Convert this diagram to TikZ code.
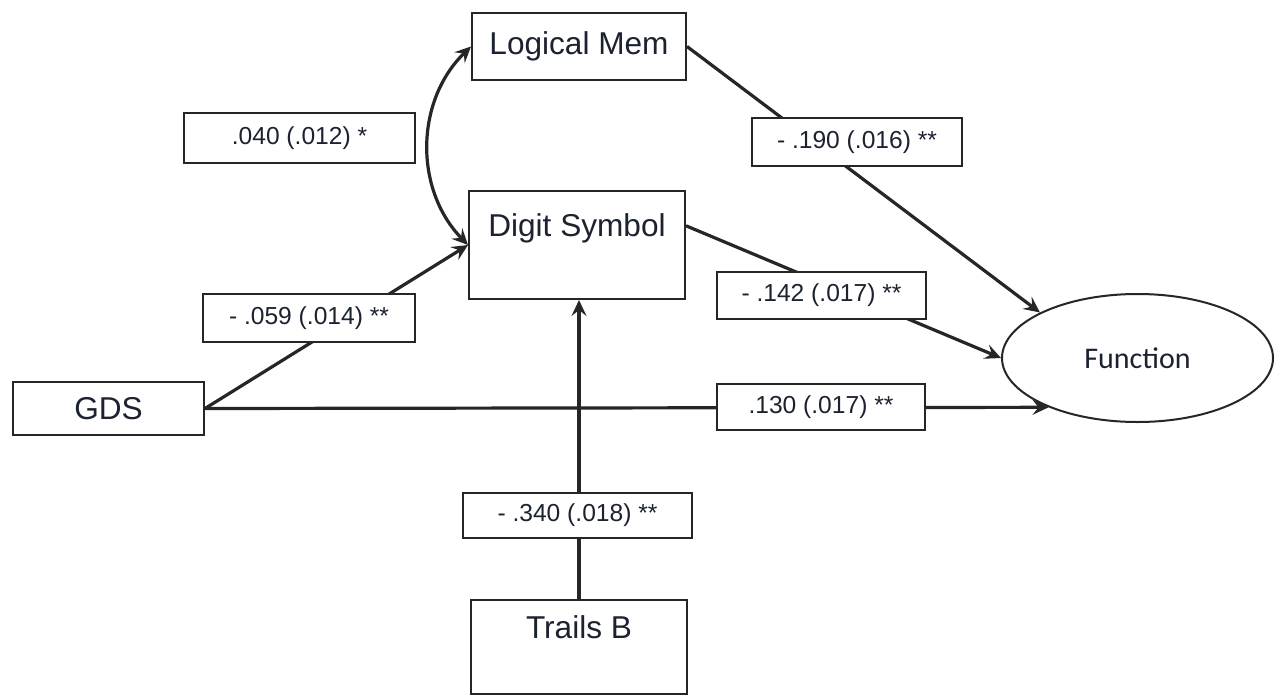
\documentclass[tikz,border=0pt]{standalone}
\usepackage{fontspec}
\setmainfont{Liberation Sans}
\newfontfamily\calfont{Carlito}
\usetikzlibrary{arrows.meta,shapes.geometric}

\definecolor{linec}{HTML}{262626}
\definecolor{textc}{HTML}{1C2230}

\tikzset{
  var/.style={draw=linec, line width=1pt, fill=white, inner sep=0pt, text=textc,
              font=\fontsize{15.8}{18}\selectfont},
  coef/.style={draw=linec, line width=1pt, fill=white, inner sep=0pt, text=textc,
               font=\fontsize{12.3}{14}\selectfont},
}

\begin{document}
\begin{tikzpicture}[x=0.5pt,y=-0.5pt,->,>={Stealth[length=8pt,width=7.5pt,inset=3pt]},line width=1.6pt,draw=linec]
        \useasboundingbox (0,0) rectangle (1279,696);
        \fill[white] (0,0) rectangle (1279,696);

        \node[var,minimum width=107pt,minimum height=33.5pt]           (LM)  at (579,46.5)    {Logical Mem};
        \node[var,minimum width=108pt,text height=22.5pt,text depth=31.5pt] (DS) at (577,245) {Digit Symbol};
        \node[var,minimum width=95.5pt,minimum height=26.5pt]          (GDS) at (108.5,408.5) {GDS};
        \node[var,minimum width=108pt,text height=19pt,text depth=28pt] (TB) at (579,647)    {Trails B};
        \node[var,ellipse,minimum width=135.5pt,minimum height=64pt,
              font=\calfont\fontsize{15}{18}\selectfont]               (Fn)  at (1137.5,358)  {Function};

        \path (LM.west) edge [<->,bend right=45] (DS.west)
              (LM.east) edge                     (Fn.155)
              (DS.10)   edge                     (Fn.west)
              (GDS.east) edge                    (DS.west)
                         edge                    (Fn.209)
              (TB.north) edge                    (TB.north |- DS.south);

        % path coefficients
        \node[coef,minimum width=115.5pt,minimum height=25pt]   (c040) at (299.5,138) {.040 (.012) *};
        \node[coef,minimum width=105pt,minimum height=24pt]     (c190) at (857,142)   {- .190 (.016) **};
        \node[coef,minimum width=104.5pt,minimum height=23.5pt] (c142) at (821.5,295.5) {- .142 (.017) **};
        \node[coef,minimum width=104pt,minimum height=23pt]     (c130) at (821,407)   {.130 (.017) **};
        \node[coef,minimum width=106pt,minimum height=24pt]     (c059) at (309,318)   {- .059 (.014) **};
        \node[coef,minimum width=114.5pt,minimum height=22.5pt] (c340) at (577.5,515.5) {- .340 (.018) **};
\end{tikzpicture}
\end{document}
